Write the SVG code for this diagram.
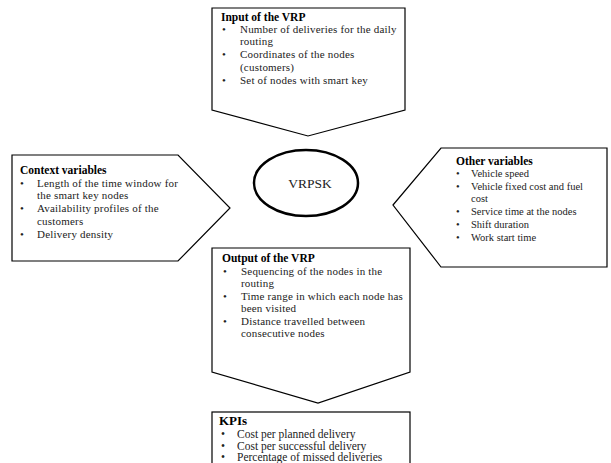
<svg xmlns="http://www.w3.org/2000/svg" width="611" height="463" viewBox="0 0 611 463">
<style>
.shape{fill:#fff;stroke:#000;stroke-width:1.2}
.ell{fill:#fff;stroke:#000;stroke-width:2.5}
.t{font-family:"Liberation Serif",serif;font-size:11px;letter-spacing:0.2px;fill:#222}
.o{font-family:"Liberation Serif",serif;font-size:10.5px;fill:#222}
.h{font-family:"Liberation Serif",serif;font-size:11.5px;font-weight:bold;fill:#000}
.k{font-family:"Liberation Serif",serif;font-size:11.5px;fill:#222}
.kh{font-family:"Liberation Serif",serif;font-size:13px;font-weight:bold;fill:#000}
.c{font-family:"Liberation Serif",serif;font-size:13.5px;fill:#222}
</style>
<rect width="611" height="463" fill="#fff"/>
<g id="connectors"></g>
<g id="input">
<polygon class="shape" points="212,8 405,8 405,110 308,136 212,110"/>
<text class="h" x="221" y="21">Input of the VRP</text>
<text class="t" x="222" y="33">•</text><text class="t" x="240" y="33">Number of deliveries for the daily</text>
<text class="t" x="240" y="45">routing</text>
<text class="t" x="222" y="58">•</text><text class="t" x="240" y="58">Coordinates of the nodes</text>
<text class="t" x="240" y="71">(customers)</text>
<text class="t" x="222" y="84">•</text><text class="t" x="240" y="84">Set of nodes with smart key</text>
</g>
<g id="context">
<polygon class="shape" points="12,155 178,155 230,208 178,261 12,261"/>
<text class="h" x="20" y="174">Context variables</text>
<text class="t" x="20" y="187">•</text><text class="t" x="37" y="187">Length of the time window for</text>
<text class="t" x="37" y="199">the smart key nodes</text>
<text class="t" x="20" y="212">•</text><text class="t" x="37" y="212">Availability profiles of the</text>
<text class="t" x="37" y="225">customers</text>
<text class="t" x="20" y="238">•</text><text class="t" x="37" y="238">Delivery density</text>
</g>
<g id="vrpsk">
<ellipse class="ell" cx="306" cy="183" rx="52" ry="33"/>
<text class="c" x="310" y="188" text-anchor="middle">VRPSK</text>
</g>
<g id="other">
<polygon class="shape" points="393,205 441,148 607,148 607,267 441,267"/>
<text class="h" x="456" y="165">Other variables</text>
<text class="o" x="456" y="177">•</text><text class="o" x="471" y="177">Vehicle speed</text>
<text class="o" x="456" y="190">•</text><text class="o" x="471" y="190">Vehicle fixed cost and fuel</text>
<text class="o" x="471" y="202">cost</text>
<text class="o" x="456" y="215">•</text><text class="o" x="471" y="215">Service time at the nodes</text>
<text class="o" x="456" y="228">•</text><text class="o" x="471" y="228">Shift duration</text>
<text class="o" x="456" y="241">•</text><text class="o" x="471" y="241">Work start time</text>
</g>
<g id="output">
<polygon class="shape" points="212,248 410,248 410,372 318,403 212,372"/>
<text class="h" x="222" y="262">Output of the VRP</text>
<text class="t" x="223" y="275">•</text><text class="t" x="241" y="275">Sequencing of the nodes in the</text>
<text class="t" x="241" y="287">routing</text>
<text class="t" x="223" y="300">•</text><text class="t" x="241" y="300">Time range in which each node has</text>
<text class="t" x="241" y="312">been visited</text>
<text class="t" x="223" y="325">•</text><text class="t" x="241" y="325">Distance travelled between</text>
<text class="t" x="241" y="337">consecutive nodes</text>
</g>
<g id="kpis">
<rect class="shape" x="212" y="412" width="198" height="60"/>
<text class="kh" x="219" y="425">KPIs</text>
<text class="k" x="221" y="438">•</text><text class="k" x="237" y="438">Cost per planned delivery</text>
<text class="k" x="221" y="450">•</text><text class="k" x="237" y="450">Cost per successful delivery</text>
<text class="k" x="221" y="461">•</text><text class="k" x="237" y="461">Percentage of missed deliveries</text>
</g>
</svg>
